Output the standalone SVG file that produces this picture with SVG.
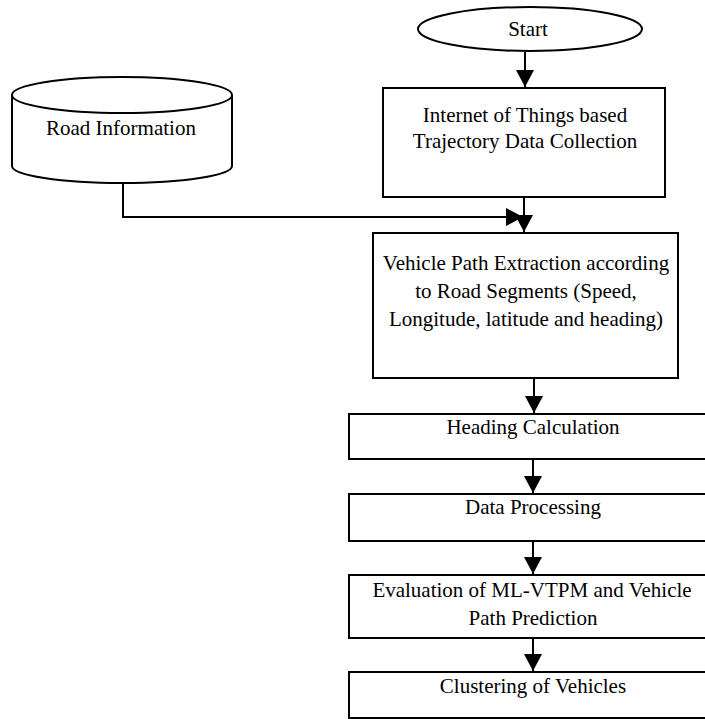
<svg xmlns="http://www.w3.org/2000/svg" width="705" height="719" viewBox="0 0 705 719">
  <style>
    .shape { fill: #ffffff; stroke: #000000; stroke-width: 2; }
    .wire { fill: none; stroke: #000000; stroke-width: 2; }
    .label { font-family: 'Liberation Serif', 'Times New Roman', serif; font-size: 21px; fill: #000000; text-anchor: middle; }
  </style>
  <defs>
    <marker id="arrow" markerUnits="userSpaceOnUse" markerWidth="18" markerHeight="18" viewBox="0 0 18 18" refX="17" refY="9" orient="auto">
      <path d="M0,0 L17,9 L0,18 Z" fill="#000000"/>
    </marker>
  </defs>

  <!-- connectors -->
  <g id="connectors">
    <path class="wire" d="M525,52 L525,87" marker-end="url(#arrow)"/>
    <path class="wire" d="M524,197 L524,232" marker-end="url(#arrow)"/>
    <path class="wire" d="M123,183 L123,217 L523,217" marker-end="url(#arrow)"/>
    <path class="wire" d="M534,378 L534,413" marker-end="url(#arrow)"/>
    <path class="wire" d="M533,459 L533,493" marker-end="url(#arrow)"/>
    <path class="wire" d="M533,541 L533,574" marker-end="url(#arrow)"/>
    <path class="wire" d="M533,638 L533,671" marker-end="url(#arrow)"/>
  </g>

  <g id="start">
    <ellipse class="shape" cx="530" cy="29" rx="112" ry="22"/>
    <text class="label" x="528" y="36">Start</text>
  </g>

  <g id="road-information">
    <path class="shape" d="M12,95 L12,166 A110,17 0 0 0 232,166 L232,95"/>
    <ellipse class="shape" cx="122" cy="95" rx="110" ry="18"/>
    <text class="label" x="121" y="135">Road Information</text>
  </g>

  <g id="iot-collection">
    <rect class="shape" x="383" y="88" width="282" height="109"/>
    <text class="label" x="525" y="122">Internet of Things based</text>
    <text class="label" x="525" y="148">Trajectory Data Collection</text>
  </g>

  <g id="path-extraction">
    <rect class="shape" x="373" y="233" width="305" height="145"/>
    <text class="label" x="526" y="270">Vehicle Path Extraction according</text>
    <text class="label" x="526" y="298">to Road Segments (Speed,</text>
    <text class="label" x="526" y="326">Longitude, latitude and heading)</text>
  </g>

  <g id="heading-calculation">
    <rect class="shape" x="349" y="414" width="370" height="45"/>
    <text class="label" x="533" y="434">Heading Calculation</text>
  </g>

  <g id="data-processing">
    <rect class="shape" x="349" y="494" width="370" height="47"/>
    <text class="label" x="533" y="514">Data Processing</text>
  </g>

  <g id="evaluation">
    <rect class="shape" x="349" y="575" width="370" height="63"/>
    <text class="label" x="532" y="597">Evaluation of ML-VTPM and Vehicle</text>
    <text class="label" x="533" y="625">Path Prediction</text>
  </g>

  <g id="clustering">
    <rect class="shape" x="349" y="672" width="370" height="46"/>
    <text class="label" x="533" y="693">Clustering of Vehicles</text>
  </g>
</svg>
